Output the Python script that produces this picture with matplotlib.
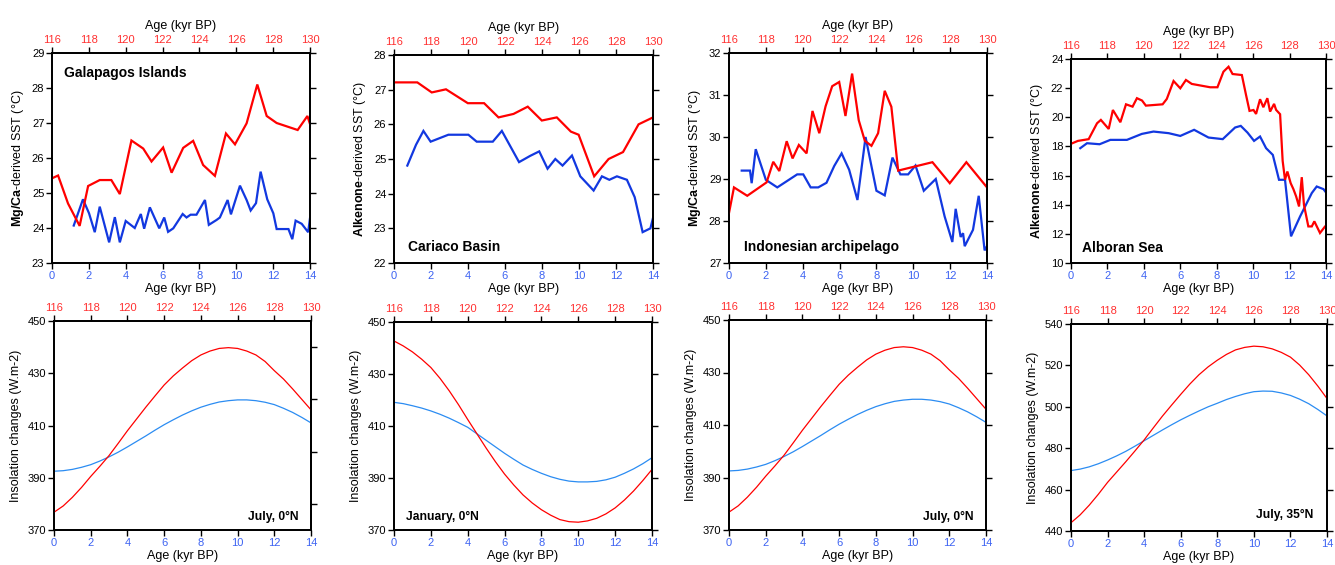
import matplotlib
matplotlib.use("Agg")
import matplotlib.pyplot as plt

plt.rcParams['font.family'] = ['Liberation Sans', 'DejaVu Sans']
plt.rcParams['mathtext.fontset'] = 'custom'
plt.rcParams['mathtext.rm'] = 'Liberation Sans'
plt.rcParams['mathtext.bf'] = 'Liberation Sans:bold'

# ---------------- DATA ----------------
# Galapagos Islands (Mg/Ca SST)
gal_lig_age = [116.0, 116.33, 116.87, 117.5, 117.96, 118.59, 119.22, 119.68, 120.31, 120.95, 121.4,
               122.03, 122.49, 123.12, 123.66, 124.2, 124.84, 125.44, 125.93, 126.56, 127.14, 127.65,
               128.19, 129.33, 129.86, 130.0]
gal_lig_sst = [25.42, 25.5, 24.7, 24.06, 25.2, 25.37, 25.37, 24.97, 26.5, 26.27, 25.9, 26.3, 25.58,
               26.29, 26.49, 25.8, 25.49, 26.7, 26.39, 26.99, 28.1, 27.2, 27.0, 26.8, 27.2, 26.97]
gal_hol_age = [1.18, 1.68, 2.01, 2.32, 2.59, 3.1, 3.41, 3.68, 4.0, 4.49, 4.82, 5.0, 5.31, 5.82, 6.09,
               6.3, 6.58, 7.09, 7.3, 7.52, 7.84, 8.3, 8.51, 8.93, 9.11, 9.53, 9.71, 10.2, 10.56, 10.78,
               11.07, 11.32, 11.68, 12.01, 12.19, 12.83, 13.04, 13.22, 13.55, 13.9, 14.0]
gal_hol_sst = [24.07, 24.82, 24.42, 23.88, 24.61, 23.59, 24.31, 23.59, 24.2, 24.0, 24.4, 23.98, 24.59,
               23.99, 24.3, 23.89, 23.99, 24.4, 24.3, 24.38, 24.38, 24.8, 24.09, 24.23, 24.3, 24.8,
               24.39, 25.21, 24.8, 24.5, 24.71, 25.61, 24.82, 24.42, 23.97, 23.97, 23.68, 24.21, 24.12,
               23.88, 24.28]

# Cariaco Basin (alkenone SST)
car_lig_age = [116.0, 117.26, 118.04, 118.81, 119.99, 120.87, 121.65, 122.46, 123.23, 123.99, 124.8,
               125.56, 125.98, 126.82, 127.6, 128.38, 129.22, 130.0]
car_lig_sst = [27.21, 27.21, 26.92, 27.01, 26.61, 26.61, 26.2, 26.3, 26.51, 26.11, 26.2, 25.79, 25.7,
               24.5, 25.0, 25.2, 26.0, 26.2]
car_hol_age = [0.72, 1.19, 1.59, 1.98, 2.94, 4.02, 4.47, 5.34, 5.83, 6.76, 7.36, 7.85, 8.3, 8.72, 9.11,
               9.62, 10.07, 10.79, 11.24, 11.64, 12.05, 12.59, 13.01, 13.44, 13.86, 14.0]
car_hol_sst = [24.81, 25.41, 25.81, 25.5, 25.7, 25.7, 25.5, 25.5, 25.81, 24.91, 25.09, 25.22, 24.72,
               25.0, 24.81, 25.1, 24.5, 24.09, 24.5, 24.4, 24.5, 24.4, 23.9, 22.89, 23.0, 23.3]

# Indonesian archipelago (Mg/Ca SST)
ind_lig_age = [116.0, 116.27, 116.99, 118.04, 118.4, 118.73, 119.13, 119.45, 119.79, 120.21, 120.53,
               120.9, 121.24, 121.6, 121.98, 122.32, 122.68, 123.04, 123.37, 123.73, 124.09, 124.45,
               124.81, 125.18, 127.04, 127.98, 128.88, 130.0]
ind_lig_sst = [28.19, 28.8, 28.6, 28.92, 29.41, 29.19, 29.9, 29.49, 29.81, 29.61, 30.62, 30.09, 30.73,
               31.21, 31.31, 30.5, 31.51, 30.4, 29.91, 29.79, 30.09, 31.1, 30.72, 29.2, 29.4, 28.9,
               29.4, 28.8]
ind_hol_age = [0.69, 1.14, 1.23, 1.45, 2.0, 2.62, 3.7, 4.03, 4.43, 4.84, 5.29, 5.71, 6.11, 6.52, 6.97,
               7.41, 8.0, 8.45, 8.87, 9.3, 9.72, 10.12, 10.57, 11.22, 11.7, 12.12, 12.3, 12.57, 12.7,
               12.79, 13.24, 13.55, 13.87, 14.0]
ind_hol_sst = [29.2, 29.2, 28.9, 29.71, 28.98, 28.8, 29.11, 29.11, 28.8, 28.8, 28.91, 29.31, 29.61,
               29.22, 28.5, 30.0, 28.72, 28.61, 29.51, 29.11, 29.11, 29.32, 28.72, 29.0, 28.11, 27.5,
               28.29, 27.62, 27.71, 27.4, 27.79, 28.6, 27.3, 27.4]

# Alboran Sea (alkenone SST)
alb_lig_age = [116.0, 116.38, 116.97, 117.43, 117.64, 118.07, 118.3, 118.71, 119.02, 119.38, 119.62,
               119.9, 120.11, 121.03, 121.26, 121.63, 122.0, 122.31, 122.63, 123.64, 124.04, 124.37,
               124.65, 124.87, 125.38, 125.61, 125.8, 126.02, 126.16, 126.38, 126.56, 126.78, 126.93,
               127.15, 127.26, 127.48, 127.62, 127.75, 127.88, 128.06, 128.21, 128.36, 128.52, 128.67,
               128.79, 129.03, 129.22, 129.36, 129.67, 129.95, 130.0]
alb_lig_sst = [18.18, 18.38, 18.5, 19.59, 19.82, 19.2, 20.5, 19.66, 20.89, 20.73, 21.31, 21.15, 20.8,
               20.89, 21.26, 22.49, 21.99, 22.56, 22.29, 22.06, 22.06, 23.13, 23.47, 22.97, 22.9, 21.53,
               20.44, 20.5, 20.23, 21.24, 20.69, 21.31, 20.39, 20.92, 20.51, 20.21, 17.01, 15.71, 16.28,
               15.48, 15.07, 14.57, 13.88, 15.89, 13.99, 12.51, 12.51, 12.86, 12.06, 12.51, 12.56]
alb_hol_age = [0.51, 0.88, 1.57, 2.16, 3.07, 3.89, 4.53, 5.36, 6.0, 6.76, 7.55, 8.33, 9.01, 9.32, 9.69,
               10.05, 10.38, 10.71, 11.08, 11.42, 11.75, 12.08, 12.58, 13.22, 13.49, 13.86, 14.0]
alb_hol_sst = [17.88, 18.22, 18.15, 18.45, 18.45, 18.86, 19.02, 18.91, 18.72, 19.14, 18.61, 18.5, 19.3,
               19.41, 18.95, 18.38, 18.68, 17.88, 17.42, 15.71, 15.71, 11.83, 13.2, 14.8, 15.25, 15.07,
               14.84]

# Insolation (read every 0.5 kyr)
ins_hol_age = [0, 0.5, 1, 1.5, 2, 2.5, 3, 3.5, 4, 4.5, 5, 5.5, 6, 6.5, 7, 7.5, 8, 8.5, 9, 9.5,
               10, 10.5, 11, 11.5, 12, 12.5, 13, 13.5, 14]
ins_lig_age = [116, 116.5, 117, 117.5, 118, 118.5, 119, 119.5, 120, 120.5, 121, 121.5, 122, 122.5,
               123, 123.5, 124, 124.5, 125, 125.5, 126, 126.5, 127, 127.5, 128, 128.5, 129, 129.5, 130]
jul0_lig = [376.8, 379.2, 382.5, 386.3, 390.5, 394.4, 398.5, 403.2, 408.0, 412.5, 417.0, 421.3, 425.5,
            429.0, 432.0, 434.8, 437.0, 438.5, 439.5, 439.8, 439.5, 438.5, 437.0, 434.5, 431.0, 427.8,
            424.0, 420.0, 416.0]
jul0_hol = [392.5, 392.7, 393.2, 394.0, 395.0, 396.4, 398.0, 399.8, 401.8, 403.9, 406.0, 408.2, 410.3,
            412.2, 414.0, 415.6, 417.0, 418.1, 419.0, 419.5, 419.8, 419.8, 419.5, 418.9, 418.0, 416.6,
            415.0, 413.1, 411.0]
jan0_lig = [442.7, 440.8, 438.5, 435.7, 432.5, 428.3, 423.5, 418.2, 412.5, 407.0, 401.5, 396.3, 391.5,
            387.3, 383.5, 380.4, 377.8, 375.7, 374.0, 373.2, 373.0, 373.5, 374.5, 376.2, 378.5, 381.5,
            385.0, 389.0, 393.3]
jan0_hol = [419.1, 418.6, 417.8, 416.9, 415.8, 414.5, 413.0, 411.3, 409.5, 407.0, 404.5, 402.0, 399.5,
            397.2, 395.0, 393.3, 391.8, 390.5, 389.5, 388.8, 388.5, 388.5, 388.7, 389.3, 390.3, 391.8,
            393.5, 395.5, 397.8]
jul35_lig = [444.0, 447.8, 452.5, 457.8, 463.5, 468.5, 473.5, 478.7, 484.0, 489.8, 495.5, 500.8, 506.0,
             511.0, 515.5, 519.3, 522.5, 525.3, 527.5, 528.7, 529.3, 529.0, 528.0, 526.3, 524.0, 520.2,
             515.5, 510.0, 504.0]
jul35_hol = [469.2, 469.9, 471.0, 472.5, 474.3, 476.3, 478.5, 481.0, 483.6, 486.2, 488.8, 491.3, 493.7,
             495.9, 498.0, 500.0, 501.7, 503.5, 505.0, 506.3, 507.3, 507.6, 507.5, 506.7, 505.5, 503.7,
             501.5, 498.7, 495.6]

hol_ticks = [0, 2, 4, 6, 8, 10, 12, 14]
lig_ticks = [116, 118, 120, 122, 124, 126, 128, 130]

# ---------------- STYLE ----------------
W, H = 1335, 565
RED = '#ff0000'
RED_TXT = '#ff3030'
BLUE_TOP = '#1238e0'
BLUE_BOT = '#2b8cf2'
BLUE_TXT = '#3d63f2'
TICK_FS = 8
LABEL_FS = 9

fig = plt.figure(figsize=(W / 100, H / 100), dpi=100)


def make_axes(l, t, r, b):
    return fig.add_axes([l / W, 1 - b / H, (r - l) / W, (b - t) / H])


def name_fs(name):
    return 8.7 if ('July' in name or 'January' in name) else 10


def panel(box, hol_x, hol_y, lig_x, lig_y, ylim, yticks, ylabel, name, name_pos, name_ha,
          blue, lw, top_label, bottom_label, right_ticks=None):
    ax = make_axes(*box)
    ax.plot(hol_x, hol_y, color=blue, lw=lw, solid_joinstyle='miter')
    ax.set_xlim(0, 14)
    ax.set_xticks(hol_ticks)
    ax.set_ylim(*ylim)
    ax.set_yticks(yticks)
    ax.tick_params(axis='x', direction='out', length=4, width=1, labelsize=TICK_FS,
                   labelcolor=BLUE_TXT, pad=2)
    ax.tick_params(axis='y', direction='out', length=4, width=1, labelsize=TICK_FS,
                   pad=1.5, right=(right_ticks is None))
    for s in ax.spines.values():
        s.set_linewidth(1.3)
    ax.set_ylabel(ylabel, fontsize=LABEL_FS, labelpad=4)
    if bottom_label:
        ax.set_xlabel('Age (kyr BP)', fontsize=LABEL_FS, labelpad=1)
    if right_ticks is not None:
        sec = ax.secondary_yaxis('right')
        sec.set_yticks(right_ticks)
        sec.tick_params(direction='out', length=4, width=1, labelright=False)
        sec.spines['right'].set_linewidth(1.3)
    top = ax.twiny()
    top.plot(lig_x, lig_y, color=RED, lw=lw, solid_joinstyle='miter')
    top.set_xlim(116, 130)
    top.set_xticks(lig_ticks)
    top.tick_params(axis='x', direction='out', length=4, width=1, labelsize=TICK_FS,
                    labelcolor=RED_TXT, pad=2)
    for s in top.spines.values():
        s.set_linewidth(1.3)
    if top_label:
        top.set_xlabel('Age (kyr BP)', fontsize=LABEL_FS, labelpad=4)
    ax.text(name_pos[0], name_pos[1], name, transform=ax.transAxes, fontsize=name_fs(name),
            fontweight='bold', ha=name_ha, va='center')
    return ax


mg_label = r'$\mathbf{Mg/Ca}$-derived SST (°C)'
alk_label = r'$\mathbf{Alkenone}$-derived SST (°C)'
ins_label = 'Insolation changes (W.m-2)'

# Row 1
panel((52, 53, 310, 263), gal_hol_age, gal_hol_sst, gal_lig_age, gal_lig_sst, (23, 29),
      [23, 24, 25, 26, 27, 28, 29], mg_label, 'Galapagos Islands', (0.045, 0.905), 'left',
      BLUE_TOP, 1.6, True, True)
panel((394, 55, 653, 263), car_hol_age, car_hol_sst, car_lig_age, car_lig_sst, (22, 28),
      [22, 23, 24, 25, 26, 27, 28], alk_label, 'Cariaco Basin', (0.054, 0.077), 'left',
      BLUE_TOP, 1.6, True, True)
panel((729, 53, 987, 263), ind_hol_age, ind_hol_sst, ind_lig_age, ind_lig_sst, (27, 32),
      [27, 28, 29, 30, 31, 32], mg_label, 'Indonesian archipelago', (0.058, 0.076), 'left',
      BLUE_TOP, 1.6, True, True)
panel((1071, 59, 1326, 263), alb_hol_age, alb_hol_sst, alb_lig_age, alb_lig_sst, (10, 24),
      [10, 12, 14, 16, 18, 20, 22, 24], alk_label, 'Alboran Sea', (0.043, 0.074), 'left',
      BLUE_TOP, 1.6, True, True)

# Row 2
panel((54, 321, 311, 530), ins_hol_age, jul0_hol, ins_lig_age, jul0_lig, (370, 450),
      [370, 390, 410, 430, 450], ins_label, 'July, 0°N', (0.953, 0.062), 'right',
      BLUE_BOT, 0.9, False, True, right_ticks=[380, 400, 420, 440])
panel((394, 322, 652, 530), ins_hol_age, jan0_hol, ins_lig_age, jan0_lig, (370, 450),
      [370, 390, 410, 430, 450], ins_label, 'January, 0°N', (0.047, 0.062), 'left',
      BLUE_BOT, 0.9, False, True)
panel((729, 320, 986, 530), ins_hol_age, jul0_hol, ins_lig_age, jul0_lig, (370, 450),
      [370, 390, 410, 430, 450], ins_label, 'July, 0°N', (0.95, 0.062), 'right',
      BLUE_BOT, 0.9, False, True)
panel((1071, 324, 1327, 531), ins_hol_age, jul35_hol, ins_lig_age, jul35_lig, (440, 540),
      [440, 460, 480, 500, 520, 540], ins_label, 'July, 35°N', (0.945, 0.077), 'right',
      BLUE_BOT, 0.9, False, True)

fig.savefig('out.png', dpi=100)
